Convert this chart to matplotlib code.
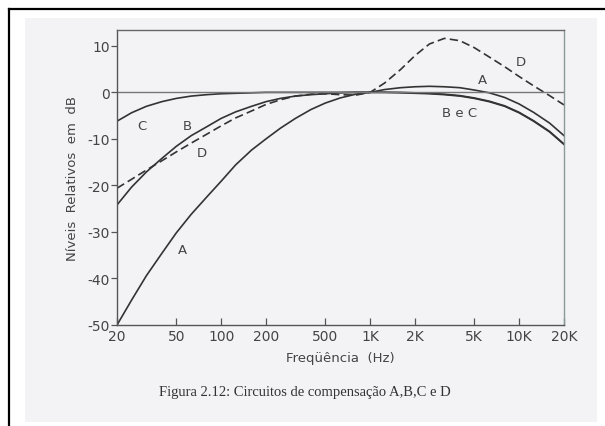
import matplotlib
matplotlib.use('Agg')
import matplotlib.pyplot as plt
from matplotlib.patches import Rectangle
from matplotlib.lines import Line2D
#
# Relative response (dB) of the weighting networks A, B, C and D
#
freq = [20, 25, 31.5, 40, 50, 63, 80, 100, 125, 160, 200, 250, 315, 400, 500, 630, 800,
        1000, 1250, 1600, 2000, 2500, 3150, 4000, 5000, 6300, 8000, 10000, 12500, 16000, 20000]
curve_a = [-50.0, -44.7, -39.4, -34.6, -30.2, -26.2, -22.5, -19.1, -15.6, -12.4, -10.0, -7.7, -5.6,
           -3.7, -2.3, -1.2, -0.4, 0.0, 0.6, 1.0, 1.2, 1.3, 1.2, 1.0, 0.5, -0.1, -1.1, -2.5, -4.3, -6.6, -9.3]
curve_b = [-24.2, -20.4, -17.1, -14.2, -11.6, -9.3, -7.4, -5.6, -4.2, -3.0, -2.0, -1.3, -0.8,
           -0.5, -0.3, -0.1, 0.0, 0.0, 0.0, 0.0, -0.1, -0.2, -0.4, -0.7, -1.2, -1.9, -2.9, -4.3, -6.1, -8.4, -11.1]
curve_c = [-6.2, -4.4, -3.0, -2.0, -1.3, -0.8, -0.5, -0.3, -0.2, -0.1, 0.0, 0.0, 0.0,
           0.0, 0.0, 0.0, 0.0, 0.0, 0.0, -0.1, -0.2, -0.3, -0.5, -0.8, -1.3, -2.0, -3.0, -4.4, -6.2, -8.5, -11.2]
curve_d = [-20.6, -18.7, -16.7, -14.7, -12.8, -10.9, -9.0, -7.2, -5.5, -4.0, -2.6, -1.6, -0.8,
           -0.4, -0.3, -0.5, -0.6, 0.0, 2.0, 4.9, 7.9, 10.4, 11.6, 11.1, 9.6, 7.6, 5.5, 3.4, 1.4, -0.7, -2.7]

xticks = [20, 50, 100, 200, 500, 1000, 2000, 5000, 10000, 20000]
xticklabels = ['20', '50', '100', '200', '500', '1K', '2K', '5K', '10K', '20K']
yticks = [10, 0, -10, -20, -30, -40, -50]

# curve labels: (text, frequency, dB)
curve_labels = [('C', 29.5, -7.2), ('B', 59, -7.2), ('D', 74, -12.9), ('A', 55, -33.8),
                ('A', 5700, 2.8), ('D', 10300, 6.6), ('B e C', 4000, -4.3)]

plt.rcParams['axes.unicode_minus'] = False

W, H = 605, 427
fig = plt.figure(figsize=(W/100, H/100), dpi=100, facecolor='white')
# scanned page background and the frame lines of the original page
fig.patches.append(Rectangle((25/W, 1-423/H), 572/W, 404/H, transform=fig.transFigure,
                             facecolor='#f3f3f6', edgecolor='none', zorder=-10))
fig.lines.append(Line2D([9/W, 1], [1-10/H, 1-10/H], transform=fig.transFigure, color='black', lw=1.6))
fig.lines.append(Line2D([9/W, 9/W], [0, 1-10/H], transform=fig.transFigure, color='black', lw=1.6))

ax = fig.add_axes([117/W, 1-326/H, 447/W, 295/H])
ax.set_facecolor('none')
ink = '#333333'
ax.plot(freq, curve_a, color=ink, lw=1.2)
ax.plot(freq, curve_b, color=ink, lw=1.2)
ax.plot(freq, curve_c, color=ink, lw=1.2)
ax.plot(freq, curve_d, color=ink, lw=1.2, linestyle=(0, (5, 2.5)))
ax.axhline(0, color='#777777', lw=1.0)

for txt, f, db in curve_labels:
    ax.text(f, db, txt, ha='center', va='center', fontsize=9.5, color='#444444')

ax.set_xscale('log')
ax.set_xlim(20, 20000)
ax.set_ylim(-50, 13.4)
ax.set_xticks(xticks)
ax.set_xticklabels(xticklabels)
ax.xaxis.set_minor_locator(matplotlib.ticker.NullLocator())
ax.set_yticks(yticks)
ax.tick_params(axis='x', direction='in', length=5, width=0.9, colors='#555555', labelsize=10, pad=3)
ax.tick_params(axis='y', direction='out', length=4, width=0.9, colors='#555555', labelsize=10, pad=1)
ax.tick_params(labelcolor='#444444')
for side, c in [('left', '#555555'), ('bottom', '#555555'), ('top', '#666666'), ('right', '#8a9a98')]:
    ax.spines[side].set_color(c)
    ax.spines[side].set_linewidth(1.0)

ax.set_xlabel('Freqüência  (Hz)', fontsize=9.5, color='#444444', labelpad=6)
ax.set_ylabel('Níveis  Relativos  em  dB', fontsize=9.5, color='#444444', labelpad=6)

fig.text(305/W, 1-393/H, 'Figura 2.12: Circuitos de compensação A,B,C e D',
         ha='center', va='center', fontsize=10.5, family='Liberation Serif', color='#333333')

fig.savefig('out.png', dpi=100, facecolor='white')
